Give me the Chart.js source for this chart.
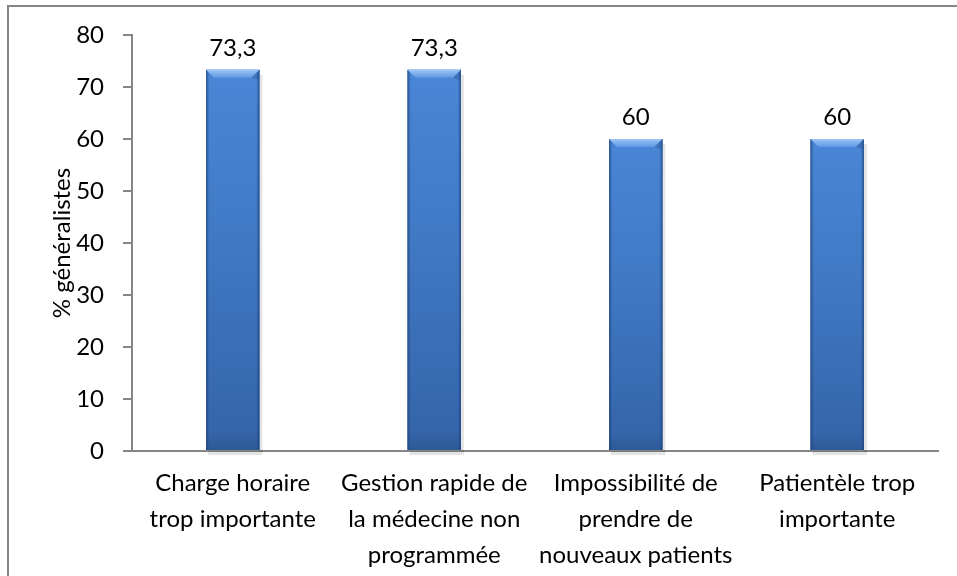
<!DOCTYPE html>
<html><head><meta charset="utf-8">
<script src="https://cdn.jsdelivr.net/npm/chart.js@4/dist/chart.umd.min.js"></script>
<style>html,body{margin:0;padding:0;background:#fff}#w{width:957px;height:576px}</style>
</head><body><div id="w"><canvas id="c" width="957" height="576"></canvas></div>
<script>
const categories = [
  ["Charge horaire", "trop importante"],
  ["Gestion rapide de", "la médecine non", "programmée"],
  ["Impossibilité de", "prendre de", "nouveaux patients"],
  ["Patientèle trop", "importante"]
];
const values = [73.3, 73.3, 60, 60];
const valueLabels = ["73,3", "73,3", "60", "60"];
const yTicks = [0, 10, 20, 30, 40, 50, 60, 70, 80];
const yTitle = "% généralistes";
const FONT = "Lato, 'Open Sans', sans-serif";
const FS = 24;

const framePlugin = {
  id: 'frame',
  afterDraw(chart) {
    const ctx = chart.ctx;
    ctx.save();
    ctx.strokeStyle = '#868686';
    ctx.lineWidth = 2;
    ctx.strokeRect(8, 6, 1200, 1200);
    ctx.restore();
  }
};

const barStyle = {
  id: 'barStyle',
  afterDatasetsDraw(chart) {
    const ctx = chart.ctx;
    const meta = chart.getDatasetMeta(0);
    meta.data.forEach((bar, i) => {
      const x0 = bar.x - bar.width / 2, x1 = bar.x + bar.width / 2;
      const top = bar.y, base = bar.base;
      const w = x1 - x0, h = base - top;
      ctx.save();
      ctx.fillStyle = 'rgba(0,0,0,0.10)';
      ctx.fillRect(x1, top + 5, 3, h - 3);
      ctx.fillRect(x0 + 2, base + 1, w + 1, 4);
      const g = ctx.createLinearGradient(0, top, 0, base);
      g.addColorStop(0, '#4a86d6');
      g.addColorStop(0.5, '#3f77c2');
      g.addColorStop(0.95, '#3565aa');
      g.addColorStop(1, '#2d5996');
      ctx.fillStyle = g;
      ctx.fillRect(x0, top, w, h);
      const ge = ctx.createLinearGradient(x0, 0, x1, 0);
      ge.addColorStop(0, 'rgba(30,65,120,0.75)');
      ge.addColorStop(0.06, 'rgba(30,65,120,0.0)');
      ge.addColorStop(0.94, 'rgba(30,65,120,0.0)');
      ge.addColorStop(1, 'rgba(30,65,120,0.75)');
      ctx.fillStyle = ge;
      ctx.fillRect(x0, top, w, h);
      const b = 8;
      const gt = ctx.createLinearGradient(0, top, 0, top + b);
      gt.addColorStop(0, '#9cc6f6');
      gt.addColorStop(1, '#5d97e2');
      ctx.fillStyle = gt;
      ctx.beginPath();
      ctx.moveTo(x0, top); ctx.lineTo(x1, top); ctx.lineTo(x1 - b, top + b); ctx.lineTo(x0 + b, top + b); ctx.closePath();
      ctx.fill();
      ctx.fillStyle = 'rgba(40,80,140,0.35)';
      ctx.beginPath();
      ctx.moveTo(x1, top); ctx.lineTo(x1 - b, top + b); ctx.lineTo(x1 - 2, top + b + 2); ctx.lineTo(x1, top + b); ctx.closePath();
      ctx.fill();
      ctx.restore();
      ctx.save();
      ctx.fillStyle = '#000';
      ctx.font = FS + 'px ' + FONT;
      ctx.textAlign = 'center';
      ctx.textBaseline = 'middle';
      ctx.fillText(valueLabels[i], bar.x, top - 22);
      ctx.restore();
    });
  }
};

new Chart(document.getElementById('c'), {
  type: 'bar',
  data: {
    labels: categories,
    datasets: [{
      data: values,
      backgroundColor: '#3d76c4',
      borderWidth: 0,
      barPercentage: 0.265,
      categoryPercentage: 1.0
    }]
  },
  options: {
    responsive: false,
    animation: false,
    devicePixelRatio: 1,
    layout: { padding: { left: 8, right: 19, top: 35, bottom: 0 } },
    plugins: { legend: { display: false }, tooltip: { enabled: false } },
    scales: {
      x: {
        grid: { display: false, drawTicks: false },
        border: { display: true, color: '#868686', width: 2 },
        ticks: { color: '#000', font: { family: FONT, size: FS, lineHeight: 1.5 }, padding: 14, maxRotation: 0, autoSkip: false },
        afterFit(s) { s.height = 125; }
      },
      y: {
        min: 0, max: 80,
        afterBuildTicks(s) { s.ticks = yTicks.map(v => ({ value: v })); },
        grid: { drawOnChartArea: false, drawTicks: true, tickLength: 9, color: '#868686', lineWidth: 2 },
        border: { display: true, color: '#868686', width: 2 },
        ticks: { color: '#000', font: { family: FONT, size: FS }, padding: 19 },
        title: { display: true, text: yTitle, color: '#000', font: { family: FONT, size: FS }, padding: { top: 40, bottom: 0 } },
        afterFit(s) { s.width = 124; }
      }
    }
  },
  plugins: [framePlugin, barStyle]
});
</script>
</body></html>
